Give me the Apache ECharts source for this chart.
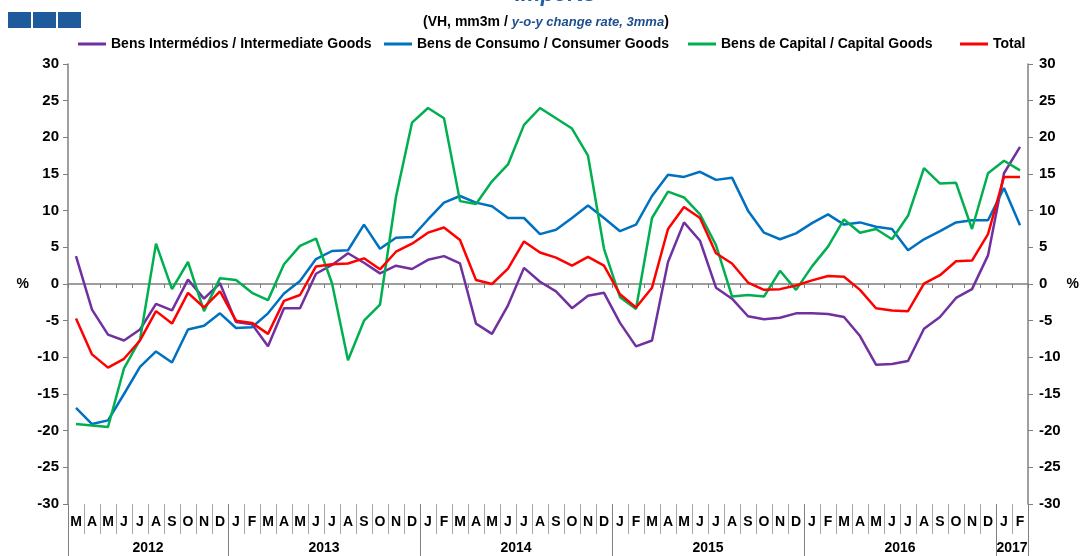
<!DOCTYPE html>
<html>
<head>
<meta charset="utf-8">
<script src="https://cdn.jsdelivr.net/npm/echarts@6/dist/echarts.min.js"></script>
<style>
  html, body { margin: 0; padding: 0; background: #fff; }
  #chart { width: 1080px; height: 556px; }
</style>
</head>
<body>
<div id="chart"></div>
<script>
// categorias mensais (mar 2012 - fev 2017)
const months = [
  '2012-03', '2012-04', '2012-05', '2012-06', '2012-07', '2012-08', '2012-09', '2012-10', '2012-11', '2012-12',
  '2013-01', '2013-02', '2013-03', '2013-04', '2013-05', '2013-06', '2013-07', '2013-08', '2013-09', '2013-10', '2013-11', '2013-12',
  '2014-01', '2014-02', '2014-03', '2014-04', '2014-05', '2014-06', '2014-07', '2014-08', '2014-09', '2014-10', '2014-11', '2014-12',
  '2015-01', '2015-02', '2015-03', '2015-04', '2015-05', '2015-06', '2015-07', '2015-08', '2015-09', '2015-10', '2015-11', '2015-12',
  '2016-01', '2016-02', '2016-03', '2016-04', '2016-05', '2016-06', '2016-07', '2016-08', '2016-09', '2016-10', '2016-11', '2016-12',
  '2017-01', '2017-02',
];
const monthLetters = ['J', 'F', 'M', 'A', 'M', 'J', 'J', 'A', 'S', 'O', 'N', 'D'];
const yTicks = [-30, -25, -20, -15, -10, -5, 0, 5, 10, 15, 20, 25, 30];
const seriesNames = [
  'Bens Intermédios / Intermediate Goods',
  'Bens de Consumo / Consumer Goods',
  'Bens de Capital / Capital Goods',
  'Total',
];

const intermediate = [
  3.8, -3.5, -6.9, -7.7, -6.2, -2.7, -3.6, 0.6, -2.0, 0.1,
  -5.2, -5.5, -8.5, -3.3, -3.3, 1.4, 2.6, 4.2, 2.9, 1.45,
  2.5, 2.05, 3.3, 3.8, 2.8, -5.4, -6.8, -2.9, 2.2, 0.3,
  -1.0, -3.3, -1.6, -1.2, -5.3, -8.5, -7.7, 3.0, 8.4, 5.9,
  -0.5, -2.0, -4.4, -4.8, -4.6, -4.0, -4.0, -4.1, -4.5, -7.1,
  -11.0, -10.9, -10.5, -6.1, -4.5, -1.9, -0.7, 3.9, 15.1, 18.7,
];
const consumer = [
  -16.9, -19.1, -18.6, -15.0, -11.3, -9.2, -10.7, -6.2, -5.7, -4.0,
  -6.0, -5.9, -4.0, -1.3, 0.4, 3.4, 4.5, 4.6, 8.1, 4.8,
  6.3, 6.4, 8.8, 11.1, 12.0, 11.1, 10.6, 9.0, 9.0, 6.8,
  7.4, 9.0, 10.7, 9.0, 7.2, 8.1, 12.0, 14.9, 14.6, 15.3,
  14.2, 14.5, 10.0, 7.0, 6.1, 6.9, 8.3, 9.5, 8.1, 8.4,
  7.8, 7.5, 4.6, 6.1, 7.2, 8.4, 8.7, 8.7, 13.1, 8.0,
];
const capital = [
  -19.1, -19.3, -19.5, -11.5, -7.6, 5.5, -0.7, 3.0, -3.7, 0.8,
  0.55, -1.2, -2.2, 2.7, 5.2, 6.2, 0.1, -10.4, -5.0, -2.8,
  11.9, 22.0, 24.0, 22.6, 11.3, 10.9, 14.0, 16.3, 21.7, 24.0,
  22.6, 21.2, 17.5, 4.8, -1.8, -3.4, 9.0, 12.6, 11.8, 9.5,
  5.3, -1.7, -1.5, -1.7, 1.8, -0.8, 2.4, 5.1, 8.8, 7.0,
  7.5, 6.1, 9.3, 15.8, 13.7, 13.8, 7.5, 15.1, 16.8, 15.5,
];
const total = [
  -4.7, -9.6, -11.4, -10.2, -7.7, -3.7, -5.4, -1.2, -3.2, -1.0,
  -5.0, -5.3, -6.8, -2.3, -1.5, 2.4, 2.7, 2.8, 3.5, 2.0,
  4.4, 5.5, 7.0, 7.7, 6.0, 0.55, 0.0, 2.1, 5.8, 4.3,
  3.6, 2.5, 3.7, 2.5, -1.4, -3.2, -0.5, 7.5, 10.5, 9.0,
  4.2, 2.8, 0.2, -0.8, -0.7, -0.2, 0.5, 1.1, 1.0, -0.8,
  -3.3, -3.6, -3.7, 0.05, 1.2, 3.1, 3.2, 6.8, 14.6, 14.6,
];

// anos: separadores e posição central dos rótulos
const years = [];
const yearStart = [];
months.forEach((m, i) => {
  const y = m.slice(0, 4);
  if (!years.length || years[years.length - 1] !== y) {
    years.push(y);
    yearStart.push(i);
  }
});
const yearEdges = yearStart.concat([months.length]);
const yearCenters = years.map((y, k) => (yearEdges[k] + yearEdges[k + 1]) / 2);

const myChart = echarts.init(document.getElementById('chart'));
const font = 'Liberation Sans, Arial, sans-serif';
const axisGray = '#7f7f7f';
const colors = ['#7030a0', '#0070c0', '#00b050', '#ff0000'];
const legendLeft = [78, 384, 688, 960];

myChart.setOption({
  backgroundColor: '#fff',
  animation: false,
  title: [
    {
      text: 'Imports',
      left: 510,
      top: -21,
      textStyle: { fontFamily: font, fontSize: 22, fontWeight: 'bold', fontStyle: 'italic', color: '#1f5fa6' },
    },
    {
      text: '{a|(VH, mm3m / }{b|y-o-y change rate, 3mma}{a|)}',
      left: 418,
      top: 10,
      textStyle: {
        rich: {
          a: { fontFamily: font, fontSize: 14, fontWeight: 'bold', color: '#000' },
          b: { fontFamily: font, fontSize: 13, fontWeight: 'bold', fontStyle: 'italic', color: '#1f4e8c' },
        },
      },
    },
  ],
  graphic: [
    { type: 'rect', left: 8, top: 12, shape: { width: 23, height: 16 }, style: { fill: '#1f5a9a' } },
    { type: 'rect', left: 33, top: 12, shape: { width: 23, height: 16 }, style: { fill: '#1f5a9a' } },
    { type: 'rect', left: 58, top: 12, shape: { width: 23, height: 16 }, style: { fill: '#1f5a9a' } },
  ],
  // uma legenda por série, como no original
  legend: seriesNames.map((name, k) => ({
    left: legendLeft[k],
    top: 37,
    padding: 0,
    itemWidth: 28,
    itemHeight: 3,
    icon: 'rect',
    textStyle: { fontFamily: font, fontSize: 14, fontWeight: 'bold', color: '#000' },
    data: [name],
  })),
  grid: { left: 68, right: 52, top: 64, bottom: 52, outerBoundsMode: 'none', containLabel: false },
  xAxis: [
    {
      // eixo no zero
      type: 'category',
      data: months,
      boundaryGap: true,
      axisLine: { onZero: true, lineStyle: { color: axisGray, width: 1.5 } },
      axisTick: { show: true, interval: 0, length: 4, lineStyle: { color: axisGray } },
      axisLabel: { show: false },
      splitLine: { show: false },
    },
    {
      // meses em baixo
      type: 'category',
      data: months,
      position: 'bottom',
      boundaryGap: true,
      axisLine: { show: true, onZero: false, lineStyle: { width: 0, opacity: 0 } },
      axisTick: { show: true, interval: 0, length: 30, lineStyle: { color: '#a6a6a6' } },
      axisLabel: {
        margin: 11,
        fontFamily: font,
        fontSize: 14,
        fontWeight: 'bold',
        color: '#000',
        interval: 0,
        formatter: (v) => monthLetters[parseInt(v.slice(5), 10) - 1],
      },
      splitLine: { show: false },
    },
    {
      // anos
      type: 'value',
      position: 'bottom',
      min: 0,
      max: months.length,
      axisLine: { show: false, onZero: false },
      axisTick: { show: true, length: 52, customValues: yearEdges, lineStyle: { color: axisGray } },
      axisLabel: {
        margin: 37,
        fontFamily: font,
        fontSize: 14,
        fontWeight: 'bold',
        color: '#000',
        customValues: yearCenters,
        formatter: (v) => years[yearCenters.indexOf(v)] || '',
      },
      splitLine: { show: false },
    },
  ],
  yAxis: [
    {
      type: 'value',
      position: 'left',
      min: yTicks[0],
      max: yTicks[yTicks.length - 1],
      interval: 5,
      name: '%',
      nameLocation: 'middle',
      nameRotate: 0,
      nameGap: 39,
      nameTextStyle: { fontFamily: font, fontSize: 14, fontWeight: 'bold', color: '#000' },
      axisLine: { show: true, lineStyle: { color: axisGray, width: 1.5 } },
      axisTick: { show: true, length: 5, lineStyle: { color: axisGray } },
      axisLabel: { margin: 9, fontFamily: font, fontSize: 15, fontWeight: 'bold', color: '#000' },
      splitLine: { show: false },
    },
    {
      type: 'value',
      position: 'right',
      min: yTicks[0],
      max: yTicks[yTicks.length - 1],
      interval: 5,
      name: '%',
      nameLocation: 'middle',
      nameRotate: 0,
      nameGap: 37,
      nameTextStyle: { fontFamily: font, fontSize: 14, fontWeight: 'bold', color: '#000' },
      axisLine: { show: true, lineStyle: { color: axisGray, width: 1.5 } },
      axisTick: { show: true, length: 5, lineStyle: { color: axisGray } },
      axisLabel: { margin: 11, fontFamily: font, fontSize: 15, fontWeight: 'bold', color: '#000' },
      splitLine: { show: false },
    },
  ],
  series: [intermediate, consumer, capital, total].map((data, k) => ({
    name: seriesNames[k],
    type: 'line',
    symbol: 'none',
    lineStyle: { width: 2.5, color: colors[k] },
    itemStyle: { color: colors[k] },
    data: data,
  })),
});
</script>
</body>
</html>
